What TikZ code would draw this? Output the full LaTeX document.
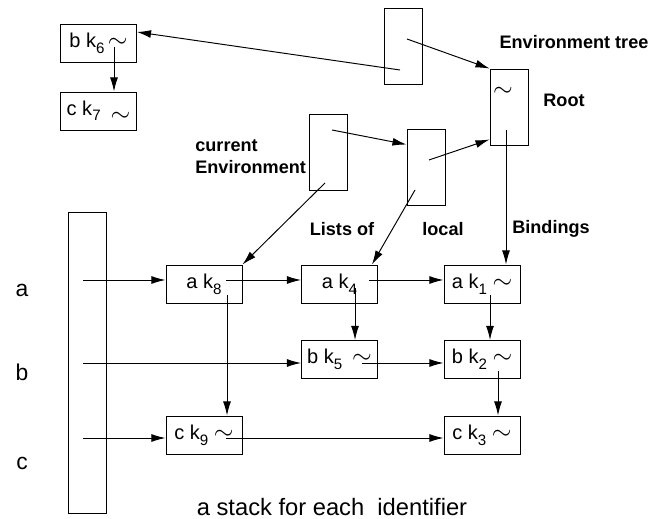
\documentclass[tikz,border=0pt]{standalone}
\usepackage{fontspec}
\setmainfont{Liberation Sans}
\usetikzlibrary{arrows.meta}
\tikzset{
  cell/.style={draw, minimum width=1.52cm, minimum height=0.76cm, inner sep=0pt, font=\fontsize{11.4}{13}\selectfont},
  frame/.style={draw, minimum width=0.76cm, minimum height=1.52cm, inner sep=0pt},
  ptr/.style={-{Latex[length=8pt,width=4.5pt]}},
  tag/.style={font=\fontsize{10.3}{12.5}\selectfont\bfseries},
  ident/.style={font=\fontsize{13}{15}\selectfont},
}
\newcommand{\kb}[1]{k\raisebox{-0.55ex}{\fontsize{8.6}{9}\selectfont #1}}
\newcommand{\tl}{{\fontsize{15}{15}\selectfont$\sim$}}

\begin{document}
\begin{tikzpicture}[x=0.02cm, y=-0.02cm, line width=0.55pt]
  \useasboundingbox (0,0) rectangle (665,519);

  % environment tree
  \node[cell] (bk6) at (98.5,43.5) {b \kb{6}\,\tl};
  \node[cell] (ck7) at (98.5,111) {c \kb{7}\enspace\raisebox{-0.6ex}{\tl}};
  \node[frame] (envtop) at (403,46.5) {};
  \node[frame] (root) at (509,107) {};
  \node (rootsim) at (503,92) {\tl};
  \node[frame] (cur) at (328,152) {};
  \node[frame] (local) at (426,167) {};

  \coordinate (envp1) at (407,39);
  \coordinate (envp2) at (400,70);
  \coordinate (bk6p) at (114,47);
  \coordinate (curp1) at (332,130);
  \coordinate (curp2) at (325,183);
  \coordinate (locp1) at (429,160);
  \coordinate (locp2) at (415,190);
  \coordinate (rootp) at (506,130);

  \node[tag] (envtree) at (574,42) {Environment tree};
  \node[tag] (rootlbl) at (564,100) {Root};
  \node[tag, align=left, anchor=west] (curlbl) at (189,157) {current\\Environment};
  \node[tag] (listsof) at (342,229) {Lists of};
  \node[tag] (locallbl) at (443,229) {local};
  \node[tag] (bindings) at (551,229) {Bindings};

  % identifier stack and bindings
  \node[draw, minimum width=0.76cm, minimum height=6.04cm, inner sep=0pt] (stack) at (87,363) {};
  \node[ident] (ida) at (22,290) {a};
  \node[ident] (idb) at (22,372) {b};
  \node[ident] (idc) at (22,463) {c};

  \node[cell] (ak8) at (204,284) {a \kb{8}};
  \node[cell] (ak4) at (339.5,284) {a \kb{4}\hspace{0.3cm}};
  \node[cell] (ak1) at (482,284) {a \kb{1} \tl};
  \node[cell] (bk5) at (339.5,359.5) {b \kb{5}\enspace\tl};
  \node[cell] (bk2) at (482,359.5) {b \kb{2} \tl};
  \node[cell] (ck9) at (204,435) {c \kb{9} \tl};
  \node[cell] (ck3) at (482,435) {c \kb{3} \tl};

  \coordinate (sa) at (83,280);
  \coordinate (sb) at (83,363);
  \coordinate (sc) at (83,438);
  \coordinate (ak8p1) at (226,280);
  \coordinate (ak8p2) at (227,295);
  \coordinate (ak4p1) at (369,280);
  \coordinate (ak4p2) at (355,288);
  \coordinate (bk5p) at (362,363);
  \coordinate (ak1p) at (490,295);
  \coordinate (bk2p) at (498,371);
  \coordinate (ck9p) at (226,438);

  \node[font=\fontsize{13.5}{16}\selectfont] (caption) at (332,507) {a stack for each\ \ identifier};

  % pointers
  \draw[ptr] (envp2) -- ([yshift=0.23cm]bk6.east);
  \draw[ptr] (envp1) -- (root.north west);
  \draw[ptr] (bk6p) -- (bk6p |- ck7.north);
  \draw[ptr] (curp1) -- ([yshift=-0.32cm]local.north west);
  \draw[ptr] (locp1) -- ([yshift=0.12cm]root.south west);
  \draw[ptr] (curp2) -- (ak8.north east);
  \draw[ptr] (locp2) -- ([xshift=-0.12cm]ak4.north east);
  \draw[ptr] (rootp) -- (rootp |- ak1.north);

  \draw[ptr] (sa) -- (sa -| ak8.west);
  \draw[ptr] (sb) -- (sb -| bk5.west);
  \draw[ptr] (sc) -- (sc -| ck9.west);
  \draw[ptr] (ak8p1) -- (ak8p1 -| ak4.west);
  \draw[ptr] (ak8p2) -- (ak8p2 |- ck9.north);
  \draw[ptr] (ak4p1) -- (ak4p1 -| ak1.west);
  \draw[ptr] (ak4p2) -- (ak4p2 |- bk5.north);
  \draw[ptr] (bk5p) -- (bk5p -| bk2.west);
  \draw[ptr] (ak1p) -- (ak1p |- bk2.north);
  \draw[ptr] (bk2p) -- (bk2p |- ck3.north);
  \draw[ptr] (ck9p) -- (ck9p -| ck3.west);
\end{tikzpicture}
\end{document}
